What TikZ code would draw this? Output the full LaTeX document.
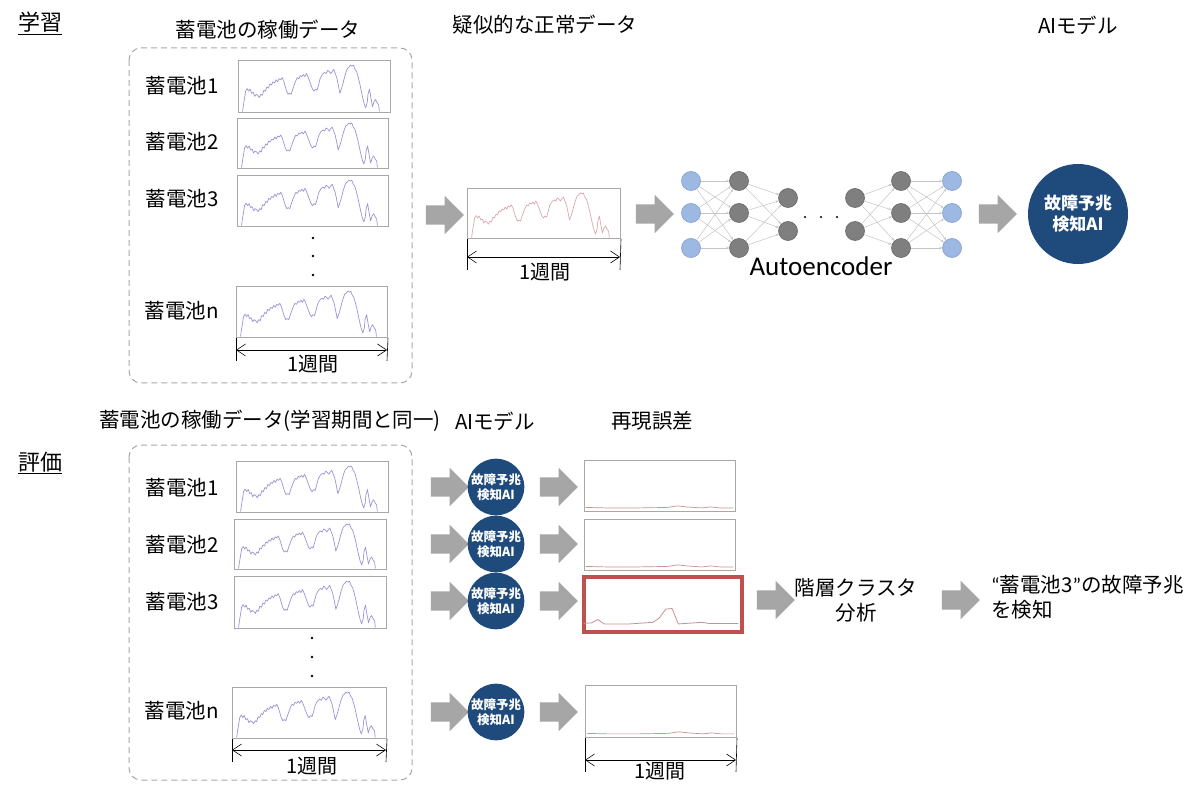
\documentclass[tikz,border=0pt]{standalone}
\usepackage{fontspec}
\setmainfont{Noto Sans CJK JP}
\newfontfamily\latf{Carlito}
\usetikzlibrary{arrows.meta,shapes.arrows}
\definecolor{agray}{HTML}{A6A6A6}
\definecolor{bgray}{HTML}{A8A8A8}
\definecolor{navy}{HTML}{1F4A7C}
\definecolor{lav}{HTML}{9C94D6}
\definecolor{pinkl}{HTML}{DDA8AD}
\definecolor{errl}{HTML}{CC9090}
\definecolor{redb}{HTML}{C0504D}
\definecolor{nblue}{HTML}{9DB9E3}
\definecolor{nblueb}{HTML}{7D9BCB}
\definecolor{ngray}{HTML}{7F7F7F}
\definecolor{ngrayb}{HTML}{666666}
\definecolor{edgec}{HTML}{C4C4C4}
\tikzset{
  txt/.style={inner sep=0pt,font=\fontsize{20.5}{25}\selectfont},
  wk/.style={inner sep=0pt,font=\fontsize{20}{24}\selectfont},
  sect/.style={inner sep=0pt,font=\fontsize{22}{26}\selectfont},
  bigarrow/.style={single arrow,fill=agray,draw=none,minimum height=38pt,
    inner xsep=0pt,inner ysep=9.5pt,
    single arrow head extend=9.5pt,single arrow tip angle=90},
  chartframe/.style={draw=bgray,line width=1pt,inner sep=0pt,fill=white},
  dashbox/.style={draw=bgray,line width=1pt,dash pattern=on 6pt off 4pt,rounded corners=12pt},
  aimodel/.style={circle,fill=navy,text=white,inner sep=0pt,align=center,font=\bfseries},
  nb/.style={circle,fill=nblue,draw=nblueb,line width=0.6pt,minimum size=19pt,inner sep=0pt},
  ng/.style={circle,fill=ngray,draw=ngrayb,line width=0.6pt,minimum size=19pt,inner sep=0pt},
  edge/.style={draw=edgec,line width=0.5pt,-{Stealth[length=3pt,width=2.6pt]}},
  dot/.style={circle,fill=black,inner sep=0pt,minimum size=2.6pt},
  dimline/.style={line width=0.6pt,{Straight Barb[length=9pt,width=12pt]}-{Straight Barb[length=9pt,width=12pt]}},
  tick/.style={line width=0.6pt},
  batt/.pic={\draw[line width=0.7pt,line join=round]
    (0.03,0.99) -- (0.035,0.88) -- (0.045,0.70) -- (0.05,0.60) -- (0.06,0.55) -- (0.07,0.60) -- (0.08,0.56) -- (0.09,0.64) -- (0.10,0.62) -- (0.11,0.70) -- (0.12,0.66) -- (0.13,0.68) -- (0.14,0.72) -- (0.15,0.66) -- (0.16,0.68) -- (0.17,0.58) -- (0.18,0.60) -- (0.19,0.52) -- (0.20,0.54) -- (0.21,0.46) -- (0.22,0.48) -- (0.23,0.42) -- (0.24,0.44) -- (0.25,0.38) -- (0.26,0.42) -- (0.27,0.36) -- (0.28,0.38) -- (0.29,0.34) -- (0.30,0.40) -- (0.31,0.50) -- (0.32,0.60) -- (0.33,0.66) -- (0.34,0.64) -- (0.35,0.66) -- (0.36,0.56) -- (0.37,0.48) -- (0.38,0.40) -- (0.39,0.34) -- (0.40,0.36) -- (0.41,0.30) -- (0.42,0.32) -- (0.43,0.28) -- (0.44,0.32) -- (0.45,0.26) -- (0.46,0.32) -- (0.47,0.40) -- (0.48,0.48) -- (0.49,0.56) -- (0.50,0.60) -- (0.51,0.56) -- (0.52,0.58) -- (0.53,0.48) -- (0.54,0.36) -- (0.55,0.30) -- (0.56,0.26) -- (0.57,0.24) -- (0.58,0.26) -- (0.59,0.20) -- (0.60,0.22) -- (0.61,0.26) -- (0.62,0.22) -- (0.63,0.18) -- (0.64,0.26) -- (0.65,0.34) -- (0.66,0.48) -- (0.67,0.64) -- (0.68,0.56) -- (0.69,0.46) -- (0.70,0.34) -- (0.71,0.24) -- (0.72,0.16) -- (0.73,0.14) -- (0.74,0.10) -- (0.75,0.12) -- (0.76,0.10) -- (0.77,0.18) -- (0.78,0.22) -- (0.79,0.32) -- (0.80,0.44) -- (0.81,0.58) -- (0.82,0.72) -- (0.83,0.84) -- (0.84,0.92) -- (0.85,0.82) -- (0.855,0.66) -- (0.865,0.56) -- (0.875,0.74) -- (0.885,0.90) -- (0.895,0.80) -- (0.905,0.76) -- (0.915,0.82) -- (0.925,0.86) -- (0.93,0.99);},
  errflat/.pic={\draw[line width=0.7pt,line join=round]
    (0.01,0.93) -- (0.15,0.94) -- (0.35,0.94) -- (0.55,0.93) -- (0.62,0.90) -- (0.68,0.92) -- (0.78,0.94) -- (0.84,0.92) -- (0.9,0.94) -- (0.99,0.94);},
  errpeak/.pic={\draw[line width=0.8pt,line join=round]
    (0.01,0.88) -- (0.06,0.87) -- (0.10,0.81) -- (0.14,0.89) -- (0.30,0.89) -- (0.45,0.86) -- (0.49,0.78) -- (0.53,0.62) -- (0.57,0.61) -- (0.61,0.89) -- (0.76,0.86) -- (0.80,0.88) -- (0.99,0.88);}
}
\newcommand\chart[6]{%
  \node[chartframe,minimum width=#4pt,minimum height=#5pt,anchor=north west] (#1) at (#2,#3) {};
  \pic[#6,xscale=#4,yscale=#5] at (#1.north west) {batt};}
\newcommand\errchart[7]{%
  \node[#7,minimum width=#4pt,minimum height=#5pt,anchor=north west] (#1) at (#2,#3) {};
  \pic[errl,xscale=#4,yscale=#5] at (#1.north west) {#6};}
\begin{document}
\begin{tikzpicture}[x=1pt,y=-1pt]
\path[use as bounding box,fill=white] (0,0) rectangle (1200,794);

% ===== 学習 =====
\node[sect] (sec1) at (40,22) {学習};
\draw[line width=0.8pt] ([yshift=-1.5pt]sec1.south west) -- ([yshift=-1.5pt]sec1.south east);

\node[txt] (t1) at (268,30) {蓄電池の稼働データ};
\node[txt] (t2) at (545,25) {疑似的な正常データ};
\node[txt] (t3) at (1078,25) {AIモデル};

\draw[dashbox] (129,48) rectangle (412,383);

\node[txt] (l1) at (182,86) {蓄電池1};
\node[txt] (l2) at (182,142) {蓄電池2};
\node[txt] (l3) at (182,199) {蓄電池3};
\node[txt] (ln) at (182,311) {蓄電池n};

\chart{b1}{238}{60}{152}{52}{lav}
\chart{b2}{237}{118}{151}{50}{lav}
\chart{b3}{237}{175}{151}{51}{lav}
\chart{bn}{236}{286}{151}{51}{lav}

\node[dot] (vd1) at (313,238) {};
\node[dot] (vd2) at (313,256) {};
\node[dot] (vd3) at (313,275) {};

\coordinate (bnl) at (236,361);
\coordinate (bnr) at (387,361);
\coordinate (bnla) at (236,350);
\coordinate (bnra) at (387,350);
\draw[tick] (bn.south west) -- (bnl);
\draw[tick] (bn.south east) -- (bnr);
\draw[dimline] (bnla) -- (bnra);
\node[wk] (w1) at (313,364) {1週間};

\node[bigarrow] (a1) at (440,215) {};

\chart{pk}{467}{188}{153}{50}{pinkl}
\coordinate (pkl) at (467,270);
\coordinate (pkr) at (620,270);
\coordinate (pkla) at (467,257);
\coordinate (pkra) at (620,257);
\draw[tick] (pk.south west) -- (pkl);
\draw[tick] (pk.south east) -- (pkr);
\draw[dimline] (pkla) -- (pkra);
\node[wk] (w2) at (545,272) {1週間};

\node[bigarrow] (a2) at (650,214) {};

% autoencoder
\foreach \n/\y in {1/181,2/213,3/248}{
  \node[nb] (i\n) at (691,\y) {};
  \node[ng] (h\n) at (739,\y) {};
  \node[ng] (k\n) at (901,\y) {};
  \node[nb] (o\n) at (952,\y) {};
}
\foreach \n/\y in {1/198,2/231}{
  \node[ng] (m\n) at (788,\y) {};
  \node[ng] (q\n) at (855,\y) {};
}
\foreach \a in {1,2,3}{\foreach \b in {1,2,3}{
  \draw[edge] (i\a) -- (h\b);
  \draw[edge] (k\a) -- (o\b);}}
\foreach \a in {1,2,3}{\foreach \b in {1,2}{
  \draw[edge] (h\a) -- (m\b);
  \draw[edge] (q\b) -- (k\a);}}
\node[dot,minimum size=2.4pt] (ad1) at (805,217) {};
\node[dot,minimum size=2.4pt] (ad2) at (821,217) {};
\node[dot,minimum size=2.4pt] (ad3) at (837,217) {};
\node[inner sep=0pt,font=\latf\fontsize{27}{32}\selectfont] (ae) at (821,266) {Autoencoder};

\node[bigarrow] (a3) at (993,214) {};
\node[aimodel,minimum size=100pt,font=\bfseries\fontsize{17}{21}\selectfont] (ai) at (1078,214) {故障予兆\\検知AI};

% ===== 評価 =====
\node[sect] (sec2) at (40,462) {評価};
\draw[line width=0.8pt] ([yshift=-1.5pt]sec2.south west) -- ([yshift=-1.5pt]sec2.south east);

\node[txt] (u1) at (270,421) {蓄電池の稼働データ(学習期間と同一)};
\node[txt] (u2) at (495,421) {AIモデル};
\node[txt] (u3) at (652,421) {再現誤差};

\draw[dashbox] (129,445) rectangle (412,780);

\node[txt] (p1) at (182,488) {蓄電池1};
\node[txt] (p2) at (182,545) {蓄電池2};
\node[txt] (p3) at (182,602) {蓄電池3};
\node[txt] (pn) at (182,711) {蓄電池n};

\chart{c1}{236}{461}{152}{51}{lav}
\chart{c2}{234}{519}{152}{50}{lav}
\chart{c3}{234}{576}{152}{52}{lav}
\chart{cn}{232}{687}{154}{51}{lav}

\node[dot] (wd1) at (312,638) {};
\node[dot] (wd2) at (312,657) {};
\node[dot] (wd3) at (312,676) {};

\coordinate (cnl) at (232,762);
\coordinate (cnr) at (386,762);
\coordinate (cnla) at (232,750);
\coordinate (cnra) at (386,750);
\draw[tick] (cn.south west) -- (cnl);
\draw[tick] (cn.south east) -- (cnr);
\draw[dimline] (cnla) -- (cnra);
\node[wk] (w3) at (312,766) {1週間};

\foreach \r/\y in {1/487,2/544,3/601,4/712}{
  \node[bigarrow] (ra\r) at (445,\y) {};
  \node[aimodel,minimum size=55pt,font=\bfseries\fontsize{12.5}{15}\selectfont] (rm\r) at (496,\y) {故障予兆\\検知AI};
  \node[bigarrow] (rb\r) at (554,\y) {};
}

\errchart{e1}{584}{460}{151}{51}{errflat}{chartframe}
\errchart{e2}{584}{519}{151}{51}{errflat}{chartframe}
\errchart{e3}{582}{575}{158}{55}{errpeak}{chartframe,draw=redb,line width=3.5pt}
\errchart{e4}{585}{685}{151}{52}{errflat}{chartframe}

\coordinate (e4l) at (585,772);
\coordinate (e4r) at (736,772);
\coordinate (e4la) at (585,760);
\coordinate (e4ra) at (736,760);
\draw[tick] (e4.south west) -- (e4l);
\draw[tick] (e4.south east) -- (e4r);
\draw[dimline] (e4la) -- (e4ra);
\node[wk] (w4) at (660,771) {1週間};

\node[bigarrow] (rc) at (771,600) {};
\node[txt,align=center] (cl) at (856,600) {階層クラスタ\\分析};
\node[bigarrow] (rd) at (956,600) {};
\node[txt,align=left,anchor=west] (res) at (991,597) {{\latf “}蓄電池3{\latf ”}の故障予兆\\を検知};
\end{tikzpicture}
\end{document}
